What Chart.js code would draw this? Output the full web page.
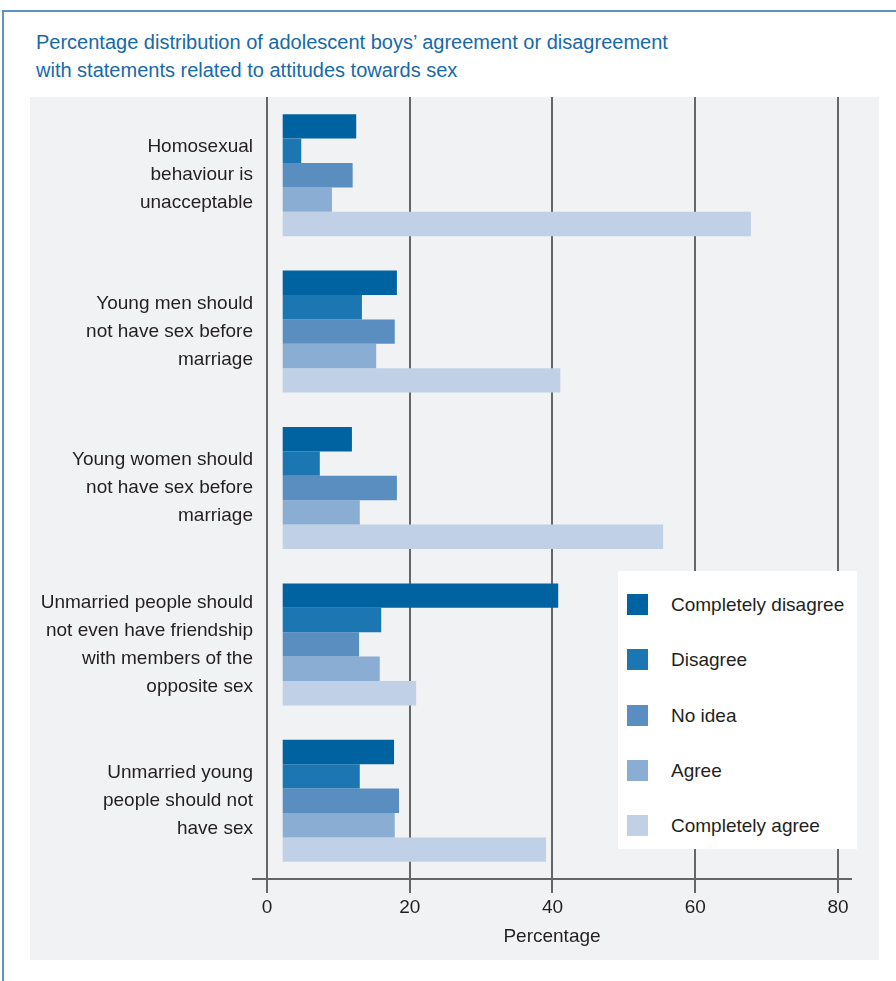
<!DOCTYPE html>
<html lang="en">
<head>
    <meta charset="UTF-8">
    <title>Adolescent boys' attitudes towards sex</title>
    <script src="https://cdn.jsdelivr.net/npm/chart.js"></script>
    <style>
        body {
            margin: 0;
            background-color: #ffffff;
            width: 896px;
            height: 981px;
            overflow: hidden;
            position: relative;
            font-family: 'Liberation Sans', Arial, sans-serif;
        }
        /* blue frame round the figure */
        #frame {
            position: absolute;
            left: 2px;
            top: 10px;
            width: 920px;
            height: 990px;
            border-left: 2px solid #5b94c0;
            border-top: 2px solid #5b94c0;
        }
        #title {
            position: absolute;
            left: 36px;
            top: 28px;
            color: #1769a8;
            font-size: 20px;
            line-height: 28px;
        }
        #panel {
            position: absolute;
            left: 30px;
            top: 97px;
            width: 849px;
            height: 863px;
            background-color: #f1f2f4;
        }
        #legend {
            position: absolute;
            left: 618px;
            top: 571px;
            width: 239px;
            height: 278px;
            background-color: #ffffff;
        }
        .item {
            position: absolute;
            left: 9px;
            height: 22px;
            font-size: 19px;
            line-height: 22px;
            color: #231f20;
            white-space: nowrap;
        }
        .item span.box {
            position: absolute;
            left: 0;
            top: 0;
            width: 21px;
            height: 21px;
        }
        .item span.txt {
            position: absolute;
            left: 44px;
            top: 0;
        }
    </style>
</head>
<body>
    <div id="frame"></div>
    <div id="title">Percentage distribution of adolescent boys’ agreement or disagreement<br>with statements related to attitudes towards sex</div>
    <div id="panel">
        <canvas id="myChart" width="849" height="863"></canvas>
    </div>
    <div id="legend"></div>

    <script>
        // statements (y categories), one array of lines per label
        const categories = [
            ['Homosexual', 'behaviour is', 'unacceptable'],
            ['Young men should', 'not have sex before', 'marriage'],
            ['Young women should', 'not have sex before', 'marriage'],
            ['Unmarried people should', 'not even have friendship', 'with members of the', 'opposite sex'],
            ['Unmarried young', 'people should not', 'have sex']
        ];
        const seriesNames = ['Completely disagree', 'Disagree', 'No idea', 'Agree', 'Completely agree'];
        const seriesColors = ['#0063a1', '#1c76b2', '#5a8ec0', '#8aadd4', '#c0d1e7'];

        // percentages
        const completelyDisagree = [12.5, 18.2, 11.9, 40.8, 17.8];
        const disagree = [4.8, 13.3, 7.4, 16.0, 13.0];
        const noIdea = [12.0, 17.9, 18.2, 12.9, 18.5];
        const agree = [9.1, 15.3, 13.0, 15.8, 17.9];
        const completelyAgree = [67.8, 41.1, 55.5, 20.9, 39.1];

        const xTicks = [0, 20, 40, 60, 80];
        const axisTitle = 'Percentage';

        const font = "'Liberation Sans', Arial, sans-serif";
        const textColor = '#231f20';
        const gridColor = '#666666';

        const seriesValues = [completelyDisagree, disagree, noIdea, agree, completelyAgree];

        const datasets = seriesNames.map((name, i) => ({
            label: name,
            data: seriesValues[i],
            backgroundColor: seriesColors[i],
            borderWidth: 0,
            base: 2.2, // bars in the original start a little right of the axis
            barPercentage: 1.0,
            categoryPercentage: 0.78
        }));

        const ctx = document.getElementById('myChart').getContext('2d');
        const myChart = new Chart(ctx, {
            type: 'bar',
            data: {
                labels: categories,
                datasets: datasets
            },
            options: {
                indexAxis: 'y',
                responsive: false,
                animation: false,
                devicePixelRatio: 1,
                layout: {
                    padding: { top: 0, left: 0, right: 28, bottom: 0 }
                },
                plugins: {
                    legend: { display: false },
                    tooltip: { enabled: false }
                },
                scales: {
                    x: {
                        min: -1.96,
                        max: 81.82,
                        afterBuildTicks: (scale) => {
                            scale.ticks = xTicks.map(v => ({ value: v }));
                        },
                        afterFit: (scale) => {
                            scale.height = 81;
                            scale.paddingLeft = 0;
                            scale.paddingRight = 0;
                        },
                        grid: {
                            color: gridColor,
                            lineWidth: 2,
                            tickLength: 14,
                            drawTicks: true
                        },
                        border: {
                            display: true,
                            color: gridColor,
                            width: 2
                        },
                        ticks: {
                            color: textColor,
                            padding: 3,
                            font: { family: font, size: 19 }
                        },
                        title: {
                            display: true,
                            text: axisTitle,
                            color: textColor,
                            font: { family: font, size: 19 },
                            padding: { top: 0, bottom: 12 }
                        }
                    },
                    y: {
                        afterFit: (scale) => {
                            scale.width = 223;
                            // let the first/last multi-line labels overhang
                            scale.paddingTop = 0;
                            scale.paddingBottom = 0;
                        },
                        grid: { display: false, drawTicks: false },
                        border: { display: false },
                        ticks: {
                            color: textColor,
                            padding: 0,
                            font: { family: font, size: 19, lineHeight: 28 / 19 }
                        }
                    }
                }
            }
        });

        // legend built from the same series arrays
        const legend = document.getElementById('legend');
        seriesNames.forEach((name, i) => {
            const item = document.createElement('div');
            item.className = 'item';
            item.style.top = (23 + i * 55.3) + 'px';
            item.innerHTML = `<span class="box" style="background:${seriesColors[i]}"></span><span class="txt">${name}</span>`;
            legend.appendChild(item);
        });
    </script>
</body>
</html>
